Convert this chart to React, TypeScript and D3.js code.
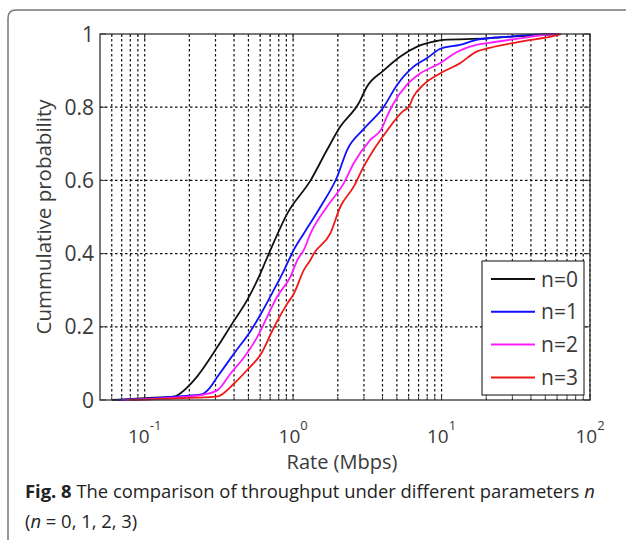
import * as d3 from "d3";

// CDF readings (rate in Mbps, cumulative probability)
const rateN0 = [0.06, 0.1, 0.16, 0.176, 0.216, 0.31, 0.39, 0.49, 0.575, 0.67, 0.915, 1.31, 1.69, 2.08, 2.76, 3.14, 4.06, 5.25, 6.8, 8.8, 10.3, 20, 30, 50, 60];
const probN0 = [0, 0.005, 0.01, 0.02, 0.055, 0.146, 0.21, 0.273, 0.328, 0.39, 0.51, 0.6, 0.683, 0.747, 0.81, 0.856, 0.9, 0.938, 0.965, 0.979, 0.984, 0.988, 0.993, 0.998, 1];

const rateN1 = [0.065, 0.1, 0.17, 0.24, 0.27, 0.31, 0.4, 0.52, 0.61, 0.74, 0.87, 1.01, 1.18, 1.53, 1.98, 2.31, 2.98, 4.06, 5.0, 6.45, 7.9, 10, 13.3, 17.2, 28.7, 45, 60];
const probN1 = [0, 0.003, 0.01, 0.015, 0.03, 0.064, 0.127, 0.19, 0.237, 0.3, 0.355, 0.41, 0.455, 0.528, 0.61, 0.683, 0.74, 0.8, 0.86, 0.91, 0.933, 0.961, 0.97, 0.984, 0.993, 0.999, 1];

const rateN2 = [0.07, 0.1, 0.15, 0.2, 0.25, 0.31, 0.38, 0.47, 0.575, 0.67, 0.78, 0.96, 1.07, 1.18, 1.31, 1.69, 2.19, 2.56, 3.3, 3.96, 4.28, 4.74, 5.83, 7.16, 9.75, 12.6, 17.2, 21, 35, 50, 62];
const probN2 = [0, 0.002, 0.006, 0.01, 0.015, 0.027, 0.073, 0.118, 0.173, 0.228, 0.282, 0.337, 0.383, 0.41, 0.455, 0.528, 0.592, 0.647, 0.71, 0.742, 0.774, 0.81, 0.861, 0.892, 0.92, 0.95, 0.97, 0.976, 0.989, 0.998, 1];

const rateN3 = [0.08, 0.1, 0.15, 0.2, 0.25, 0.31, 0.4, 0.49, 0.61, 0.71, 0.78, 0.915, 1.01, 1.18, 1.31, 1.38, 1.78, 2.08, 2.56, 2.98, 3.48, 4.28, 5.53, 6.0, 6.45, 7.53, 9.75, 13.3, 17.2, 21, 35, 59, 64];
const probN3 = [0, 0.001, 0.004, 0.006, 0.007, 0.01, 0.045, 0.082, 0.127, 0.182, 0.215, 0.264, 0.29, 0.355, 0.383, 0.4, 0.455, 0.528, 0.583, 0.637, 0.683, 0.735, 0.79, 0.8, 0.828, 0.861, 0.892, 0.92, 0.952, 0.962, 0.98, 0.996, 1];

const seriesNames = ["n=0", "n=1", "n=2", "n=3"];
const seriesColors = ["#111111", "#1010ff", "#ff1aff", "#f01818"];
const seriesRates = [rateN0, rateN1, rateN2, rateN3];
const seriesProbs = [probN0, probN1, probN2, probN3];

const xDecades = [0.1, 1, 10, 100];
const xExponents = ["-1", "0", "1", "2"];
const yTicks = [0, 0.2, 0.4, 0.6, 0.8, 1];
const yTickLabels = ["0", "0.2", "0.4", "0.6", "0.8", "1"];

const W = 626, H = 540;
const left = 100, right = 590, top = 34, bottom = 400;
const font = "'Open Sans', sans-serif";

export default function App() {
  const x = d3.scaleLog().domain([0.05, 100]).range([left, right]);
  const y = d3.scaleLinear().domain([0, 1]).range([bottom, top]);
  const minorX = x.ticks().filter((t) => t > 0.05);

  const line = d3
    .line<[number, number]>()
    .x((d) => x(d[0]))
    .y((d) => y(d[1]))
    .curve(d3.curveMonotoneX);

  return (
    <svg width={W} height={H} style={{ position: "absolute", left: 0, top: 0, background: "#fff" }}>
      {/* frame */}
      <path d={`M8,${H} L8,18 Q8,10 16,10 L${W},10`} fill="none" stroke="#777" strokeWidth={1.5} />

      {/* grid */}
      <g stroke="#111" strokeWidth={1.2} strokeDasharray="2.5,2.5">
        {minorX.map((t, i) => (
          <line key={"gx" + i} x1={x(t)} x2={x(t)} y1={top} y2={bottom} />
        ))}
        {yTicks.slice(1, -1).map((t, i) => (
          <line key={"gy" + i} x1={left} x2={right} y1={y(t)} y2={y(t)} />
        ))}
      </g>

      {/* ticks */}
      <g stroke="#333" strokeWidth={1}>
        {minorX.map((t, i) => {
          const len = xDecades.includes(t) ? 6 : 3;
          return (
            <g key={"tx" + i}>
              <line x1={x(t)} x2={x(t)} y1={bottom} y2={bottom - len} />
              <line x1={x(t)} x2={x(t)} y1={top} y2={top + len} />
            </g>
          );
        })}
        {yTicks.map((t, i) => (
          <g key={"ty" + i}>
            <line x1={left} x2={left + 6} y1={y(t)} y2={y(t)} />
            <line x1={right} x2={right - 6} y1={y(t)} y2={y(t)} />
          </g>
        ))}
      </g>

      {/* curves */}
      {seriesRates.map((rates, s) => (
        <path
          key={"c" + s}
          d={line(rates.map((r, i) => [r, seriesProbs[s][i]] as [number, number])) || ""}
          fill="none"
          stroke={seriesColors[s]}
          strokeWidth={1.8}
        />
      ))}

      {/* axes box */}
      <rect x={left} y={top} width={right - left} height={bottom - top} fill="none" stroke="#333" strokeWidth={1.3} />

      {/* y tick labels */}
      {yTicks.map((t, i) => (
        <text key={"yl" + i} x={94} y={y(t)} dy="0.36em" textAnchor="end" fontFamily={font} fontSize={21} fill="#3a3a3a">
          {yTickLabels[i]}
        </text>
      ))}

      {/* x tick labels */}
      {xDecades.map((t, i) => (
        <text key={"xl" + i} x={x(t)} y={443} textAnchor="middle" fontFamily={font} fontSize={19} fill="#3a3a3a">
          10
          <tspan dy={-13} fontSize={13}>{xExponents[i]}</tspan>
        </text>
      ))}

      <text x={342} y={469} textAnchor="middle" fontFamily={font} fontSize={20} fill="#3a3a3a">
        Rate (Mbps)
      </text>
      <text
        transform={`translate(51,${(top + bottom) / 2}) rotate(-90)`}
        textAnchor="middle"
        fontFamily={font}
        fontSize={20.5}
        fill="#3a3a3a"
      >
        Cummulative probability
      </text>

      {/* legend */}
      <rect x={482} y={261} width={102} height={134} fill="#fff" stroke="#333" strokeWidth={1.2} />
      {seriesNames.map((name, i) => {
        const ly = 279 + i * 32.8;
        return (
          <g key={"lg" + i}>
            <line x1={491} x2={535} y1={ly} y2={ly} stroke={seriesColors[i]} strokeWidth={2} />
            <text x={541} y={ly} dy="0.36em" fontFamily={font} fontSize={21} fill="#3a3a3a">
              {name}
            </text>
          </g>
        );
      })}

      {/* caption */}
      <text x={25} y={498} fontFamily={font} fontSize={18.4} fill="#222">
        <tspan fontWeight="bold">Fig. 8</tspan> The comparison of throughput under different parameters{" "}
        <tspan fontStyle="italic">n</tspan>
      </text>
      <text x={25} y={528} fontFamily={font} fontSize={18.4} fill="#222">
        (<tspan fontStyle="italic">n</tspan> = 0, 1, 2, 3)
      </text>
    </svg>
  );
}
